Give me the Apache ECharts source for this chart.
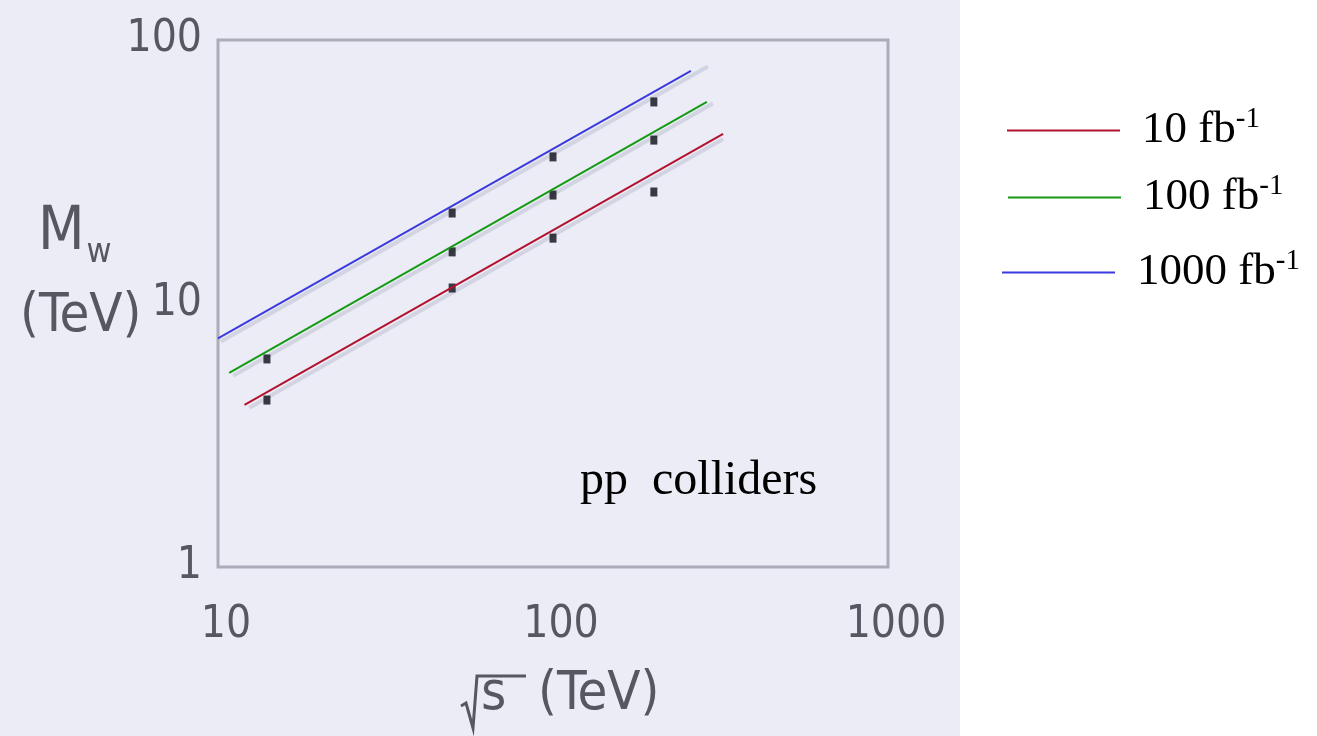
<!DOCTYPE html>
<html><head><meta charset="utf-8">
<script src="https://cdn.jsdelivr.net/npm/echarts@6/dist/echarts.min.js"></script>
<style>html,body{margin:0;padding:0;background:#fff}#c{width:1317px;height:736px}</style>
</head><body><div id="c"></div>
<script>
// ---- data ----
const seriesNames = ['10 fb-1', '100 fb-1', '1000 fb-1'];
const seriesColors = ['#b3122f', '#159a15', '#3a3ade'];
// fitted lines (endpoints, sqrt(s) in TeV, M_W' in TeV)
const lineX10 = [12.0, 322];   const lineY10 = [4.12, 44.0];
const lineX100 = [10.8, 288];  const lineY100 = [5.45, 58.2];
const lineX1000 = [10.0, 258]; const lineY1000 = [7.38, 76.3];
// faint grey copies of the lines visible in the picture
const shadowX10 = [12.4, 322];  const shadowY10 = [4.02, 42.1];
const shadowX100 = [11.1, 300]; const shadowY100 = [5.32, 57.4];
const shadowX1000 = [10.2, 290]; const shadowY1000 = [7.17, 79.4];
// square markers
const ptsX10 = [14, 50, 100, 200];   const ptsY10 = [4.3, 11.45, 17.7, 26.5];
const ptsX100 = [14, 50, 100, 200];  const ptsY100 = [6.16, 15.7, 25.8, 41.7];
const ptsX1000 = [50, 100, 200];     const ptsY1000 = [22.05, 36.0, 58.2];
const xMin = 10, xMax = 1000, yMin = 1, yMax = 100;

const zip = (xs, ys) => xs.map((x, i) => [x, ys[i]]);
const narrow = "'Liberation Sans Narrow','DejaVu Sans Condensed','Liberation Sans',sans-serif";
const serif = "'Liberation Serif','Times New Roman',serif";
const labelGrey = '#565761';

const lines = [[lineX10, lineY10], [lineX100, lineY100], [lineX1000, lineY1000]];
const shadows = [[shadowX10, shadowY10], [shadowX100, shadowY100], [shadowX1000, shadowY1000]];
const pts = [[ptsX10, ptsY10], [ptsX100, ptsY100], [ptsX1000, ptsY1000]];

const series = [];
shadows.forEach((s, i) => series.push({
  name: 'shadow' + i, type: 'line', data: zip(s[0], s[1]), symbol: 'none', silent: true,
  lineStyle: { color: '#c3c5d3', width: 4, opacity: 0.6 }, z: 1
}));
pts.forEach((p, i) => series.push({
  name: 'pts' + i, type: 'scatter', data: zip(p[0], p[1]), symbol: 'rect', symbolSize: [7, 9],
  itemStyle: { color: '#0b0c16' }, z: 2
}));
lines.forEach((l, i) => series.push({
  name: seriesNames[i], type: 'line', data: zip(l[0], l[1]), symbol: 'none',
  color: seriesColors[i], lineStyle: { color: seriesColors[i], width: 2 }, z: 3
}));

const legendPos = [[1007, 105], [1008, 172], [1002, 247]];
const legends = seriesNames.map((n, i) => ({
  data: [n], left: legendPos[i][0], top: legendPos[i][1], orient: 'horizontal', padding: 0,
  icon: 'rect', itemWidth: 113, itemHeight: 2, selectedMode: false,
  formatter: name => '{a|' + name.replace('-1', '') + '}{b|-1}',
  textStyle: {
    rich: {
      a: { fontFamily: serif, fontSize: 45, color: '#000', padding: [0, 0, 0, 17], lineHeight: 50 },
      b: { fontFamily: serif, fontSize: 29, color: '#000', padding: [0, 0, 22, 0], lineHeight: 50 }
    }
  }
}));

const chart = echarts.init(document.getElementById('c'), null, { renderer: 'canvas' });
chart.setOption({
  backgroundColor: '#ffffff',
  animation: false,
  grid: { left: 218, right: 429, top: 40, bottom: 169, show: true, borderColor: '#aaacba', borderWidth: 3, backgroundColor: 'transparent' },
  xAxis: {
    type: 'log', logBase: 10, min: xMin, max: xMax,
    axisLine: { show: false }, axisTick: { show: false }, splitLine: { show: false },
    axisLabel: { fontFamily: narrow, fontSize: 44, color: labelGrey, margin: 37, padding: [0, 0, 0, 16], formatter: v => String(Math.round(v)) }
  },
  yAxis: {
    type: 'log', logBase: 10, min: yMin, max: yMax,
    axisLine: { show: false }, axisTick: { show: false }, splitLine: { show: false },
    axisLabel: { fontFamily: narrow, fontSize: 44, color: labelGrey, margin: 16, formatter: v => String(Math.round(v)) }
  },
  legend: legends,
  graphic: [
    { type: 'rect', shape: { x: 0, y: 0, width: 960, height: 736 }, style: { fill: '#ebecf6' }, z: -10, silent: true },
    { type: 'text', left: 38, top: 203, style: { text: '{m|M}{w|w}', rich: { m: { fontFamily: narrow, fontSize: 60, fill: labelGrey }, w: { fontFamily: narrow, fontSize: 34, fill: labelGrey, padding: [40, 0, 0, 2] } } } },
    { type: 'text', left: 20, top: 290, style: { text: '(TeV)', fontFamily: narrow, fontSize: 54, fill: labelGrey } },
    { type: 'text', left: 481, top: 668, style: { text: 's', fontFamily: narrow, fontSize: 54, fill: labelGrey } },
    { type: 'text', left: 538, top: 668, style: { text: '(TeV)', fontFamily: narrow, fontSize: 54, fill: labelGrey } },
    { type: 'polyline', shape: { points: [[461, 706], [466, 703], [473, 728], [477, 676], [526, 676]] }, style: { stroke: labelGrey, lineWidth: 3, fill: null } },
    { type: 'text', left: 580, top: 457, style: { text: 'pp  colliders', fontFamily: serif, fontSize: 48, fill: '#000' } }
  ],
  series: series
});
</script></body></html>
